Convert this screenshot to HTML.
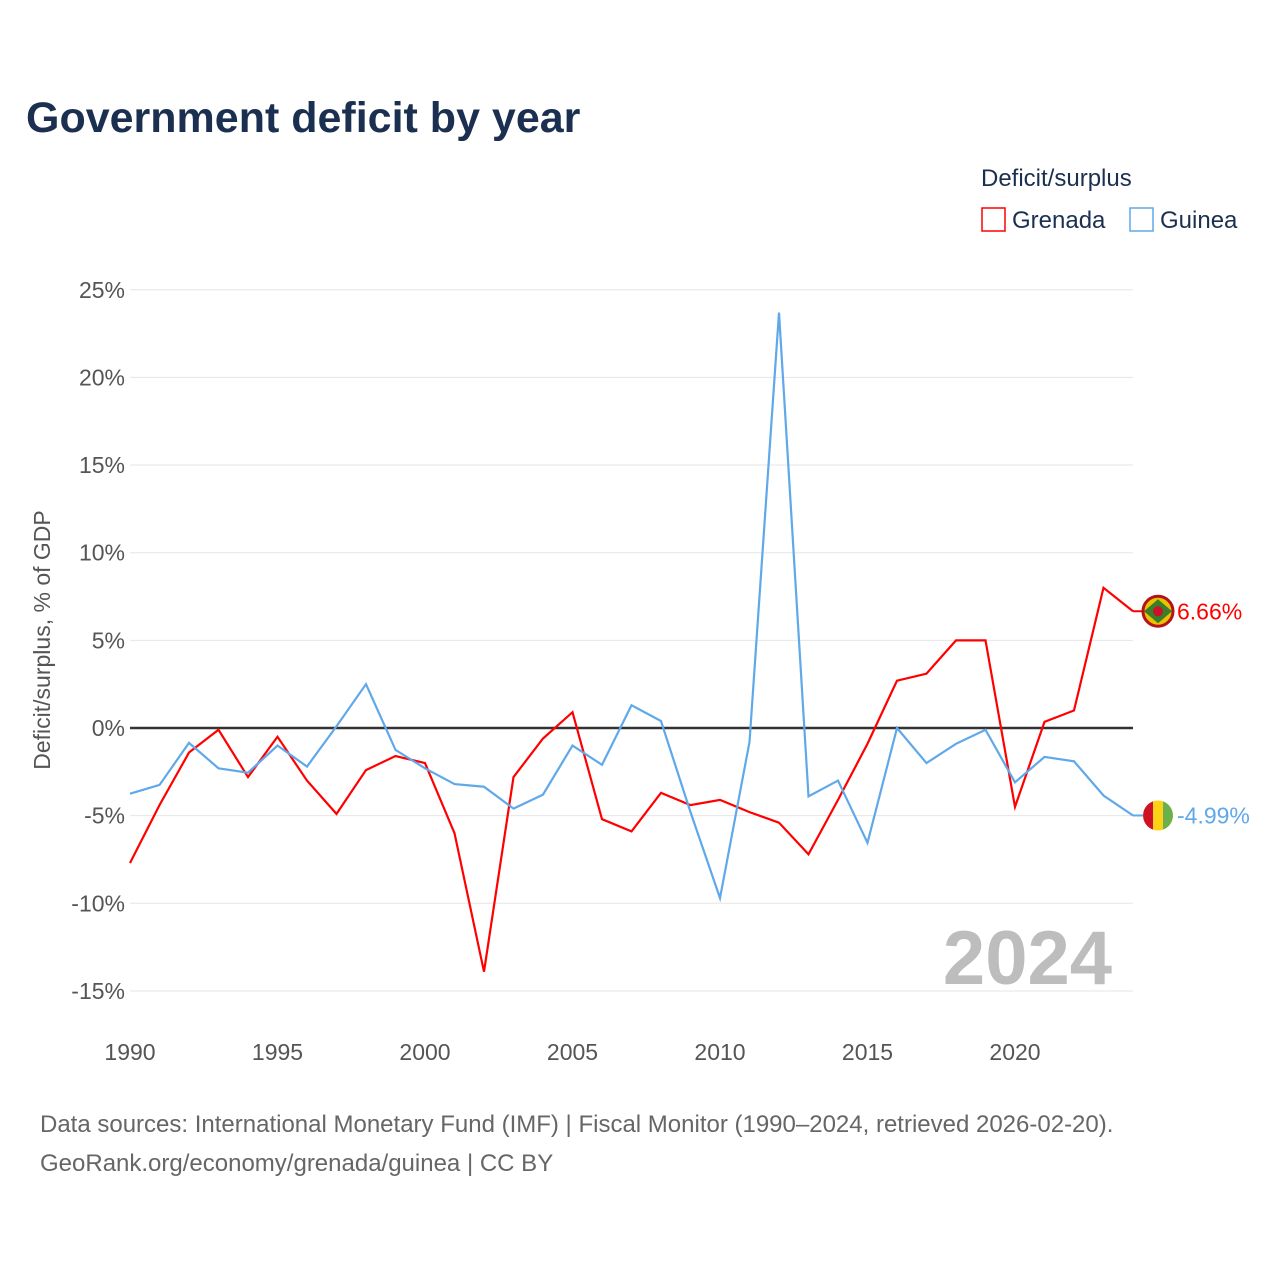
<!DOCTYPE html>
<html><head><meta charset="utf-8"><style>
body{margin:0;background:#fff;font-family:"Liberation Sans",sans-serif;}
svg text{font-family:"Liberation Sans",sans-serif;}
</style></head><body>
<svg id="chart" width="1280" height="1280" viewBox="0 0 1280 1280">
<text x="26" y="132" font-size="43" font-weight="bold" fill="#1b3050">Government deficit by year</text>
<text x="981" y="186" font-size="24" fill="#1b3050">Deficit/surplus</text>
<g><rect x="982" y="208" width="23" height="23" fill="none" stroke="#ff0000" stroke-width="1.5"/><text x="1012" y="228" font-size="24" fill="#1b3050">Grenada</text></g>
<g><rect x="1130" y="208" width="23" height="23" fill="none" stroke="#5fa8ea" stroke-width="1.5"/><text x="1160" y="228" font-size="24" fill="#1b3050">Guinea</text></g>
<g id="grid"></g><g id="yticks"></g><g id="xticks"></g><g id="lines"></g>
<text transform="translate(50,640) rotate(-90)" text-anchor="middle" font-size="23" fill="#555">Deficit/surplus, % of GDP</text>
<text x="1112" y="984" text-anchor="end" font-size="76" font-weight="bold" fill="#bdbdbd">2024</text>
<text x="40" y="1132" font-size="24" fill="#666">Data sources: International Monetary Fund (IMF) | Fiscal Monitor (1990–2024, retrieved 2026-02-20).</text>
<text x="40" y="1171" font-size="24" fill="#666">GeoRank.org/economy/grenada/guinea | CC BY</text>
</svg>
<script>
const years=[1990,1991,1992,1993,1994,1995,1996,1997,1998,1999,2000,2001,2002,2003,2004,2005,2006,2007,2008,2009,2010,2011,2012,2013,2014,2015,2016,2017,2018,2019,2020,2021,2022,2023,2024];
const grenada=[-7.7,-4.4,-1.4,-0.1,-2.8,-0.5,-3.0,-4.9,-2.4,-1.6,-2.0,-6.0,-13.9,-2.8,-0.6,0.9,-5.2,-5.9,-3.7,-4.4,-4.1,-4.8,-5.4,-7.2,-4.1,-0.9,2.7,3.1,5.0,5.0,-4.5,0.35,1.0,8.0,6.66];
const guinea=[-3.75,-3.25,-0.85,-2.3,-2.55,-1.0,-2.2,0.1,2.5,-1.25,-2.3,-3.2,-3.35,-4.6,-3.8,-1.0,-2.1,1.3,0.4,-4.8,-9.7,-0.8,23.7,-3.9,-3.0,-6.55,0,-2.0,-0.9,-0.1,-3.1,-1.65,-1.9,-3.85,-4.99];
const yTicks=[25,20,15,10,5,0,-5,-10,-15];
const xTicks=[1990,1995,2000,2005,2010,2015,2020];
const NS="http://www.w3.org/2000/svg";
const X=y=>130+(y-1990)*(1133-130)/34;
const Y=v=>728-v*17.53;
function mk(tag,attrs,parent){const e=document.createElementNS(NS,tag);for(const k in attrs)e.setAttribute(k,attrs[k]);document.getElementById(parent).appendChild(e);return e;}
yTicks.forEach(t=>{
  const l=mk('line',{x1:130,x2:1133,y1:Y(t),y2:Y(t),stroke:t===0?'#333':'#e6e6e6','stroke-width':t===0?2.5:1},'grid');
  
  
  const tx=mk('text',{x:125,y:Y(t)+8,'text-anchor':'end','font-size':23,fill:'#555'},'yticks');
  tx.textContent=t+'%';
  
  
});
xTicks.forEach(t=>{
  const tx=mk('text',{x:X(t),y:1060,'text-anchor':'middle','font-size':23,fill:'#555'},'xticks');
  tx.textContent=t;
  
  
});
function series(vals,color,name){
  const p=mk('polyline',{points:vals.map((v,i)=>X(years[i])+','+Y(v)).join(' '),fill:'none',stroke:color,'stroke-width':2.2,'stroke-linejoin':'miter'},'lines');
  
  
  const last=vals[vals.length-1];
  const x=X(years[years.length-1]),y=Y(last);
  mk('line',{x1:x,x2:x+12,y1:y,y2:y,stroke:color,'stroke-width':2},'lines');
  const c=mk('circle',{cx:x+25,cy:y,r:15,fill:name==='grenada'?'#e8c300':'#fcd116'},'lines');
  
  
  if(name==='guinea'){
    mk('path',{d:`M${x+20},${y-14.1} A15,15 0 0 0 ${x+20},${y+14.1} Z`,fill:'#ce1126'},'lines');
    mk('path',{d:`M${x+30},${y-14.1} A15,15 0 0 1 ${x+30},${y+14.1} Z`,fill:'#6ab04c'},'lines');
  } else {
    c.setAttribute('stroke','#b5121b');c.setAttribute('stroke-width','3');
    mk('path',{d:`M${x+11},${y} L${x+25},${y-12} L${x+25},${y+12} Z`,fill:'#3a7d2a'},'lines');
    mk('path',{d:`M${x+39},${y} L${x+25},${y-12} L${x+25},${y+12} Z`,fill:'#3a7d2a'},'lines');
    mk('circle',{cx:x+25,cy:y,r:5,fill:'#ce1126'},'lines');
  }
  const t=mk('text',{x:x+44,y:y+8,'font-size':23,fill:color},'lines');
  t.textContent=last.toFixed(2)+'%';
  
  
}
series(grenada,'#ff0000','grenada');
series(guinea,'#5fa8ea','guinea');
</script>
</body></html>
